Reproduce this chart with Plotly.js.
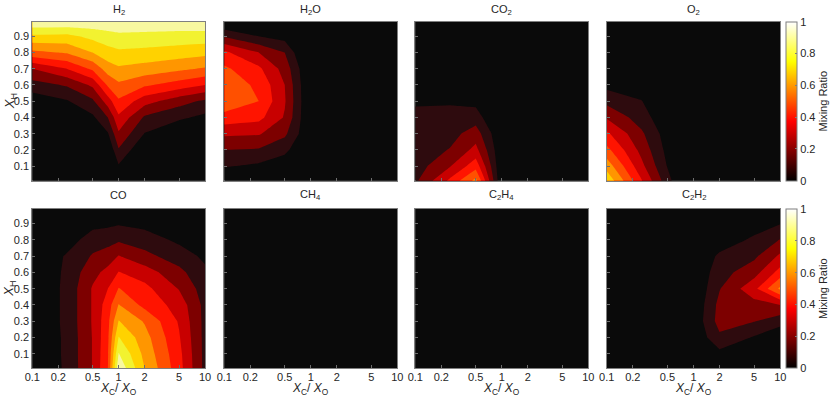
<!DOCTYPE html>
<html><head><meta charset="utf-8">
<script src="https://cdn.plot.ly/plotly-3.0.1.min.js"></script>
<style>html,body{margin:0;padding:0;background:#fff}#chart{width:831px;height:399px}</style>
</head><body><div id="chart"></div>
<script>
// ---------- data ----------
const coRatio = [0.1, 0.25, 0.5, 0.75, 1, 2, 5, 10];           // X_C / X_O grid
const xH = [0.01, 0.1, 0.2, 0.3, 0.4, 0.5, 0.6, 0.7, 0.8, 0.9, 0.99]; // X_H grid
const xTickVals = [0.1, 0.2, 0.5, 1, 2, 5, 10];
const xTickText = ['0.1', '0.2', '0.5', '1', '2', '5', '10'];
const yTickVals = [0.1, 0.2, 0.3, 0.4, 0.5, 0.6, 0.7, 0.8, 0.9];
const yTickText = ['0.1', '0.2', '0.3', '0.4', '0.5', '0.6', '0.7', '0.8', '0.9'];
const cbTickVals = [0, 0.2, 0.4, 0.6, 0.8, 1];
const cbTickText = ['0', '0.2', '0.4', '0.6', '0.8', '1'];
const speciesNames = ['H<sub>2</sub>', 'H<sub>2</sub>O', 'CO<sub>2</sub>', 'O<sub>2</sub>',
                      'CO', 'CH<sub>4</sub>', 'C<sub>2</sub>H<sub>4</sub>', 'C<sub>2</sub>H<sub>2</sub>'];

// rows: X_H = 0.01 ... 0.99 ; columns: C/O = 0.1 ... 10
const H2 = [
  [0, 0, 0, 0, 0, 0, 0, 0],
  [0, 0, 0, 0, 0.09, 0, 0, 0],
  [0, 0, 0, 0, 0.19, 0, 0, 0],
  [0, 0, 0, 0.09, 0.285, 0.095, 0, 0],
  [0.01, 0.01, 0.08, 0.2, 0.38, 0.185, 0.12, 0.075],
  [0.03, 0.09, 0.18, 0.35, 0.485, 0.34, 0.24, 0.18],
  [0.16, 0.21, 0.32, 0.515, 0.58, 0.515, 0.455, 0.40],
  [0.30, 0.40, 0.52, 0.65, 0.685, 0.66, 0.62, 0.59],
  [0.575, 0.61, 0.70, 0.76, 0.78, 0.77, 0.75, 0.73],
  [0.78, 0.77, 0.83, 0.86, 0.88, 0.87, 0.86, 0.86],
  [0.98, 0.98, 0.97, 0.97, 0.96, 0.97, 0.97, 0.97]
];
const H2O = [
  [0, 0, 0, 0, 0, 0, 0, 0],
  [0.11, 0.08, 0.03, 0, 0, 0, 0, 0],
  [0.2, 0.19, 0.13, 0.03, 0, 0, 0, 0],
  [0.32, 0.31, 0.22, 0.09, 0, 0, 0, 0],
  [0.46, 0.43, 0.29, 0.11, 0, 0, 0, 0],
  [0.58, 0.5, 0.31, 0.115, 0, 0, 0, 0],
  [0.56, 0.48, 0.3, 0.11, 0, 0, 0, 0],
  [0.52, 0.42, 0.26, 0.095, 0, 0, 0, 0],
  [0.42, 0.3, 0.2, 0.04, 0, 0, 0, 0],
  [0.19, 0.1, 0.06, 0, 0, 0, 0, 0],
  [0, 0, 0, 0, 0, 0, 0, 0]
];
const CO2 = [
  [0.18, 0.42, 0.63, 0.26, 0, 0, 0, 0],
  [0.15, 0.29, 0.46, 0.2, 0, 0, 0, 0],
  [0.14, 0.205, 0.33, 0.15, 0, 0, 0, 0],
  [0.13, 0.16, 0.25, 0.105, 0, 0, 0, 0],
  [0.12, 0.13, 0.15, 0.04, 0, 0, 0, 0],
  [0.09, 0.09, 0.07, 0, 0, 0, 0, 0],
  [0.03, 0.02, 0, 0, 0, 0, 0, 0],
  [0, 0, 0, 0, 0, 0, 0, 0],
  [0, 0, 0, 0, 0, 0, 0, 0],
  [0, 0, 0, 0, 0, 0, 0, 0],
  [0, 0, 0, 0, 0, 0, 0, 0]
];
const O2 = [
  [0.78, 0.41, 0.14, 0, 0, 0, 0, 0],
  [0.66, 0.33, 0.095, 0, 0, 0, 0, 0],
  [0.53, 0.27, 0.07, 0, 0, 0, 0, 0],
  [0.42, 0.22, 0.05, 0, 0, 0, 0, 0],
  [0.29, 0.15, 0.02, 0, 0, 0, 0, 0],
  [0.17, 0.105, 0, 0, 0, 0, 0, 0],
  [0.07, 0.03, 0, 0, 0, 0, 0, 0],
  [0.02, 0, 0, 0, 0, 0, 0, 0],
  [0, 0, 0, 0, 0, 0, 0, 0],
  [0, 0, 0, 0, 0, 0, 0, 0],
  [0, 0, 0, 0, 0, 0, 0, 0]
];
const CO = [
  [0, 0.117, 0.305, 0.5, 0.98, 0.7, 0.44, 0.17],
  [0, 0.12, 0.305, 0.49, 0.905, 0.67, 0.43, 0.17],
  [0, 0.12, 0.305, 0.48, 0.805, 0.64, 0.41, 0.17],
  [0, 0.125, 0.31, 0.47, 0.705, 0.59, 0.39, 0.17],
  [0, 0.125, 0.31, 0.45, 0.605, 0.47, 0.36, 0.17],
  [0, 0.125, 0.31, 0.4, 0.505, 0.43, 0.295, 0.15],
  [0, 0.12, 0.27, 0.33, 0.405, 0.35, 0.23, 0.12],
  [0, 0.111, 0.21, 0.25, 0.305, 0.23, 0.15, 0.08],
  [0, 0.05, 0.15, 0.16, 0.185, 0.15, 0.08, 0.03],
  [0, 0, 0.07, 0.08, 0.09, 0.07, 0.02, 0],
  [0, 0, 0, 0, 0, 0, 0, 0]
];
const CH4 = [
  [0, 0, 0, 0, 0, 0, 0, 0],
  [0, 0, 0, 0, 0, 0, 0, 0],
  [0, 0, 0, 0, 0, 0, 0, 0],
  [0, 0, 0, 0, 0, 0, 0, 0],
  [0, 0, 0, 0, 0, 0, 0, 0],
  [0, 0, 0, 0, 0, 0, 0, 0],
  [0, 0, 0, 0, 0, 0, 0, 0],
  [0, 0, 0, 0, 0, 0, 0, 0],
  [0, 0, 0, 0, 0, 0, 0, 0],
  [0, 0, 0, 0, 0, 0, 0, 0],
  [0, 0, 0, 0, 0, 0, 0, 0]
];
const C2H4 = [
  [0, 0, 0, 0, 0, 0, 0, 0],
  [0, 0, 0, 0, 0, 0, 0, 0],
  [0, 0, 0, 0, 0, 0, 0, 0],
  [0, 0, 0, 0, 0, 0, 0, 0],
  [0, 0, 0, 0, 0, 0, 0, 0],
  [0, 0, 0, 0, 0, 0, 0, 0],
  [0, 0, 0, 0, 0, 0, 0, 0],
  [0, 0, 0, 0, 0, 0, 0, 0],
  [0, 0, 0, 0, 0, 0, 0, 0],
  [0, 0, 0, 0, 0, 0, 0, 0],
  [0, 0, 0, 0, 0, 0, 0, 0]
];
const C2H2 = [
  [0, 0, 0, 0, 0, 0, 0, 0],
  [0, 0, 0, 0, 0, 0.07, 0, 0],
  [0, 0, 0, 0, 0.01, 0.18, 0.09, 0.02],
  [0, 0, 0, 0, 0.02, 0.24, 0.205, 0.14],
  [0, 0, 0, 0, 0.01, 0.23, 0.26, 0.3],
  [0, 0, 0, 0, 0, 0.195, 0.37, 0.62],
  [0, 0, 0, 0, 0, 0.16, 0.26, 0.44],
  [0, 0, 0, 0, 0, 0.12, 0.18, 0.32],
  [0, 0, 0, 0, 0, 0.04, 0.12, 0.205],
  [0, 0, 0, 0, 0, 0, 0.05, 0.095],
  [0, 0, 0, 0, 0, 0, 0, 0]
];
const speciesData = [H2, H2O, CO2, O2, CO, CH4, C2H4, C2H2];

// ---------- styling ----------
const bandColors = ['#0a0a0a', '#2e0b0e', '#7d0000', '#c80000', '#ff1400',
                    '#ff5000', '#ff9600', '#ffd200', '#f2f230', '#f8f8a0'];
const bandScale = bandColors.map((c, k) => [k / (bandColors.length - 1), c]);
const hotScale = [[0, '#000000'], [0.375, '#ff0000'], [0.75, '#ffff00'], [1, '#ffffff']];

const W = 831, H = 399;
const xDom = [[32.3, 205], [224.3, 397.3], [415.3, 588.3], [606.7, 780.3]].map(d => [d[0] / W, d[1] / W]);
const yDom = [[21.7, 180.7], [209, 368.3]].map(d => [1 - d[1] / H, 1 - d[0] / H]);

const logCO = coRatio.map(v => Math.log10(v));
const logTicks = xTickVals.map(v => Math.log10(v));
const FONT = 'Liberation Sans, Arial, sans-serif';
const TXT = '#262626';

const traces = [];
const layout = {
  width: W, height: H,
  margin: {l: 0, r: 0, t: 0, b: 0},
  paper_bgcolor: '#ffffff', plot_bgcolor: '#0a0a0a',
  font: {family: FONT, size: 11, color: TXT},
  showlegend: false,
  annotations: []
};

speciesData.forEach((z, i) => {
  const row = Math.floor(i / 4), col = i % 4, n = i + 1;
  const xa = 'xaxis' + (n === 1 ? '' : n), ya = 'yaxis' + (n === 1 ? '' : n);
  traces.push({
    type: 'contour', x: logCO, y: xH, z: z,
    xaxis: 'x' + (n === 1 ? '' : n), yaxis: 'y' + (n === 1 ? '' : n),
    autocontour: false,
    contours: {start: 0.1, end: 0.9, size: 0.1, coloring: 'fill', showlines: false},
    line: {width: 0, smoothing: 0},
    colorscale: bandScale, showscale: false, hoverinfo: 'skip'
  });
  layout[xa] = {
    domain: xDom[col], range: [-1, 1], anchor: 'y' + (n === 1 ? '' : n),
    tickvals: logTicks, ticktext: xTickText, showticklabels: row === 1,
    ticks: 'inside', ticklen: 3, tickcolor: '#6e6e6e', ticklabelstandoff: -2,
    showgrid: false, zeroline: false, showline: true, mirror: true,
    linecolor: '#7f7f7f', linewidth: 1, tickfont: {size: 11, color: TXT}
  };
  layout[ya] = {
    domain: yDom[row], range: [0.01, 0.99], anchor: 'x' + (n === 1 ? '' : n),
    tickvals: yTickVals, ticktext: yTickText, showticklabels: col === 0,
    ticks: 'inside', ticklen: 3, tickcolor: '#6e6e6e',
    showgrid: false, zeroline: false, showline: true, mirror: true,
    linecolor: '#7f7f7f', linewidth: 1, tickfont: {size: 11, color: TXT}
  };
  layout.annotations.push({
    xref: 'paper', yref: 'paper', x: (xDom[col][0] + xDom[col][1]) / 2,
    y: row === 0 ? 1 - 10 / H : 1 - 195 / H, xanchor: 'center', yanchor: 'middle',
    text: speciesNames[i], showarrow: false, font: {size: 11, color: TXT}
  });
  if (col === 0) {
    layout.annotations.push({
      xref: 'paper', yref: 'paper', x: 10 / W, y: (yDom[row][0] + yDom[row][1]) / 2,
      xanchor: 'center', yanchor: 'middle', textangle: -90,
      text: '<i>X</i><sub>H</sub>', showarrow: false, font: {size: 13, color: TXT}
    });
  }
  if (row === 1) {
    layout.annotations.push({
      xref: 'paper', yref: 'paper', x: (xDom[col][0] + xDom[col][1]) / 2, y: 1 / H,
      xanchor: 'center', yanchor: 'bottom', borderpad: 0,
      text: '<i>X</i><sub>C</sub>/ <i>X</i><sub>O</sub>', showarrow: false, font: {size: 12, color: TXT}
    });
  }
});

// colorbars (one per row), continuous hot map
[[4, 0], [8, 1]].forEach(([n, row]) => {
  traces.push({
    type: 'scatter', mode: 'markers', x: [logCO[0]], y: [xH[0]],
    xaxis: 'x' + n, yaxis: 'y' + n, hoverinfo: 'skip',
    marker: {
      size: 1, opacity: 0, color: [cbTickVals[0]], cmin: 0, cmax: 1,
      colorscale: hotScale, showscale: true,
      colorbar: {
        x: 786 / W, xanchor: 'left', xpad: 0,
        y: (yDom[row][0] + yDom[row][1]) / 2, yanchor: 'middle', ypad: 0,
        len: yDom[row][1] - yDom[row][0], lenmode: 'fraction',
        thickness: 11, thicknessmode: 'pixels',
        outlinewidth: 1, outlinecolor: '#7f7f7f',
        tickvals: cbTickVals, ticktext: cbTickText, ticks: 'inside', ticklen: 2,
        tickcolor: '#7f7f7f', tickfont: {size: 11, color: TXT},
        title: {text: 'Mixing Ratio', side: 'right', font: {size: 11, color: TXT}}
      }
    }
  });
});

Plotly.newPlot('chart', traces, layout, {displayModeBar: false, staticPlot: true});
</script>
</body></html>
